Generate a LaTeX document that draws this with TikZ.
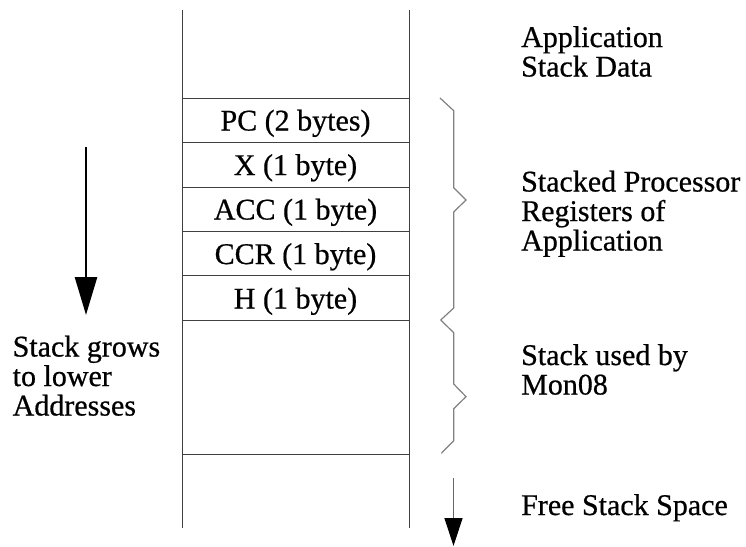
\documentclass[tikz,border=0pt]{standalone}
\usepackage{fontspec}
\setmainfont{Liberation Serif}[FakeBold=0.6]
\usetikzlibrary{arrows.meta}
\begin{document}
\begin{tikzpicture}[x=1pt,y=-1pt,
  boxline/.style={draw=black!75,line width=1pt},
  braceline/.style={draw=black!50,line width=1.2pt,line join=miter},
  lbl/.style={font=\fontsize{30}{29.5}\selectfont,inner sep=0pt,align=left},
  cell/.style={font=\fontsize{30}{29.5}\selectfont,inner sep=0pt,anchor=base}]
\useasboundingbox (0,0) rectangle (746,546);
% stack walls
\coordinate (tl) at (182,10);
\coordinate (bl) at (182,528);
\coordinate (tr) at (409,10);
\coordinate (br) at (409,528);
\draw[boxline] (tl) -- (bl);
\draw[boxline] (tr) -- (br);
\foreach \y in {98,142.5,187,231,275.5,320,454}
  \draw[boxline] (182,\y) -- (409,\y);
% cell texts
\node[cell] (pc)  at (295.5,130.5) {PC (2 bytes)};
\node[cell] (x)   at (295.5,175) {X (1 byte)};
\node[cell] (acc) at (295.5,219.5) {ACC (1 byte)};
\node[cell] (ccr) at (295.5,264) {CCR (1 byte)};
\node[cell] (h)   at (295.5,308.5) {H (1 byte)};
% braces
\draw[braceline] (440,98) -- (453.7,110.7) -- (453.7,187.7) -- (466,200) -- (453.7,212) -- (453.7,308) -- (440.7,320);
\draw[braceline] (440.7,320) -- (453.7,332.7) -- (453.7,384) -- (466,396.7) -- (453.7,408.7) -- (453.7,440.7) -- (441.3,453.3);
% labels right
\node[lbl,anchor=base west] (app) at (521,47) {Application};
\node[lbl,anchor=base west] (appb) at (521,76.5) {Stack Data};
\node[lbl,anchor=base west] (spr1) at (521,191.5) {Stacked Processor};
\node[lbl,anchor=base west] (spr2) at (521,221) {Registers of};
\node[lbl,anchor=base west] (spr3) at (521,250.5) {Application};
\node[lbl,anchor=base west] (mon1) at (521,365) {Stack used by};
\node[lbl,anchor=base west] (mon2) at (521,394.5) {Mon08};
\node[lbl,anchor=base west] (free) at (521,515) {Free Stack Space};
% labels left
\node[lbl,anchor=base west] (sg1) at (12.5,356.5) {Stack grows};
\node[lbl,anchor=base west] (sg2) at (12.5,386) {to lower};
\node[lbl,anchor=base west] (sg3) at (12.5,415.5) {Addresses};
% arrows
\coordinate (a1s) at (86,147);
\coordinate (a1e) at (86,315);
\draw[line width=2.7pt,-{Triangle[width=22pt,length=38pt]}] (a1s) -- (a1e);
\coordinate (a2s) at (453.5,478);
\coordinate (a2e) at (453.5,546);
\draw[draw=black!60,line width=1.3pt,-{Triangle[width=18pt,length=28pt,color=black]}] (a2s) -- (a2e);
\end{tikzpicture}
\end{document}
